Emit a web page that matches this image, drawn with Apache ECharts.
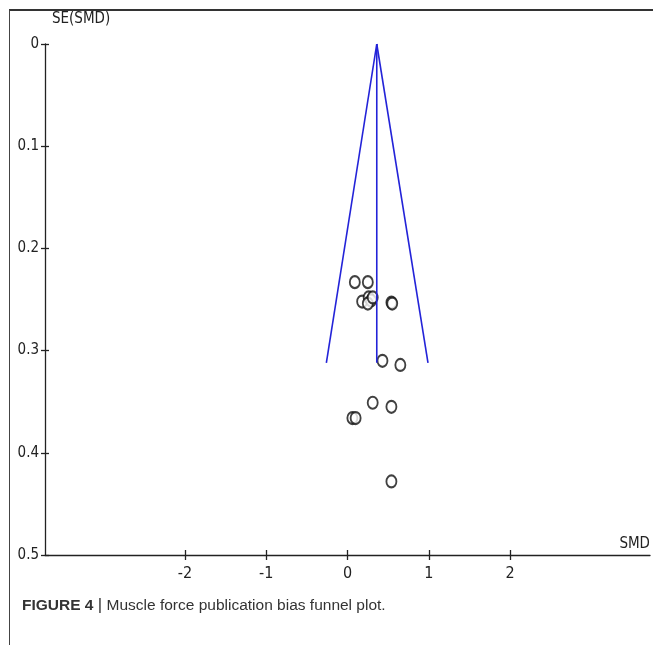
<!DOCTYPE html>
<html>
<head>
<meta charset="utf-8">
<script src="https://cdn.jsdelivr.net/npm/echarts@6/dist/echarts.min.js"></script>
<style>
html,body{margin:0;padding:0;background:#fff;}
#wrap{position:relative;width:653px;height:645px;}
#chart{position:absolute;left:0;top:0;width:653px;height:645px;}
#frame{position:absolute;left:9px;top:9px;width:644px;height:636px;border-top:2px solid #333;border-left:1px solid #444;box-sizing:border-box;pointer-events:none;}
</style>
</head>
<body>
<div id="wrap"><div id="chart"></div><div id="frame"></div></div>
<script>
// Study estimates (SMD) and their standard errors
const smd = [0.09, 0.25, 0.18, 0.26, 0.29, 0.25, 0.31, 0.54, 0.55, 0.43, 0.65, 0.31, 0.54, 0.06, 0.10, 0.54];
const se  = [0.233, 0.233, 0.252, 0.248, 0.251, 0.254, 0.248, 0.253, 0.254, 0.310, 0.314, 0.351, 0.355, 0.366, 0.366, 0.428];
// Funnel: pooled estimate and 95% limits at the largest SE
const pooledSMD = 0.36;
const funnelSE = [0, 0.312];
const funnelLower = [0.36, -0.26];
const funnelUpper = [0.36, 0.99];
// Axes
const xTicks = [-2, -1, 0, 1, 2];
const xRange = [-3.72, 3.72];
const yRange = [0, 0.5];
const yInterval = 0.1;
const captionBold = 'FIGURE 4';
const captionText = 'Muscle force publication bias funnel plot.';

const narrow = "'Liberation Sans Narrow','Arial Narrow','DejaVu Sans Condensed','Roboto Condensed',sans-serif";
const sans = "'Liberation Sans',Arial,'Helvetica Neue',sans-serif";
const chart = echarts.init(document.getElementById('chart'), null, {renderer: 'canvas'});

const xAxisBase = {
  type: 'value', min: xRange[0], max: xRange[1], position: 'bottom',
  splitLine: {show: false}
};
const yAxisBase = {
  type: 'value', min: yRange[0], max: yRange[1], interval: yInterval, inverse: true,
  position: 'left', splitLine: {show: false}
};

chart.setOption({
  animation: false,
  backgroundColor: '#fff',
  title: {
    text: '{b|' + captionBold + '} {s||} ' + captionText,
    left: 22, top: 597, padding: 0,
    textStyle: {
      fontFamily: sans, fontSize: 15.5, fontWeight: 'normal', color: '#333',
      rich: {
        b: {fontFamily: sans, fontSize: 15.5, fontWeight: 'bold', color: '#333'},
        s: {fontFamily: sans, fontSize: 17, color: '#333'}
      }
    }
  },
  grid: {left: 45, right: 3, top: 44, bottom: 90, containLabel: false},
  xAxis: [
    Object.assign({}, xAxisBase, {
      name: 'SMD', nameLocation: 'end', nameGap: 0,
      nameTextStyle: {fontFamily: narrow, fontSize: 15, color: '#222', align: 'right', verticalAlign: 'bottom', padding: [0, 0, 3, 0]},
      axisLine: {show: true, onZero: false, lineStyle: {color: '#222', width: 1.3}},
      axisTick: {show: true, inside: false, length: 5, customValues: xTicks, lineStyle: {color: '#222', width: 1.3}},
      axisLabel: {show: true, customValues: xTicks, margin: 11, fontFamily: narrow, fontSize: 16, color: '#222'}
    }),
    Object.assign({}, xAxisBase, {
      axisLine: {show: false, onZero: false},
      axisTick: {show: true, inside: true, length: 5, customValues: xTicks, lineStyle: {color: '#222', width: 1.3}},
      axisLabel: {show: false}
    })
  ],
  yAxis: [
    Object.assign({}, yAxisBase, {
      name: 'SE(SMD)', nameLocation: 'start', nameGap: 17,
      nameTextStyle: {fontFamily: narrow, fontSize: 15, color: '#222', align: 'left', padding: [0, 0, 0, 7]},
      axisLine: {show: true, onZero: false, lineStyle: {color: '#222', width: 1.3}},
      axisTick: {show: true, inside: false, length: 4, lineStyle: {color: '#222', width: 1.3}},
      axisLabel: {show: true, margin: 6, fontFamily: narrow, fontSize: 15, color: '#222'}
    }),
    Object.assign({}, yAxisBase, {
      axisLine: {show: false, onZero: false},
      axisTick: {show: true, inside: true, length: 4, lineStyle: {color: '#222', width: 1.3}},
      axisLabel: {show: false}
    })
  ],
  series: [
    {
      type: 'line', xAxisIndex: 0, yAxisIndex: 0, symbol: 'none',
      lineStyle: {color: '#2323d8', width: 1.6},
      data: funnelSE.map((s, i) => [funnelLower[i], s])
    },
    {
      type: 'line', xAxisIndex: 0, yAxisIndex: 0, symbol: 'none',
      lineStyle: {color: '#2323d8', width: 1.6},
      data: funnelSE.map((s, i) => [funnelUpper[i], s])
    },
    {
      type: 'line', xAxisIndex: 0, yAxisIndex: 0, symbol: 'none',
      lineStyle: {color: '#2323d8', width: 1.6},
      data: funnelSE.map(s => [pooledSMD, s])
    },
    {
      type: 'scatter', xAxisIndex: 0, yAxisIndex: 0,
      symbol: 'emptyCircle', symbolSize: [10, 12],
      itemStyle: {color: '#111', borderColor: '#111', borderWidth: 1.2},
      data: smd.map((v, i) => [v, se[i]])
    }
  ]
});
</script>
</body>
</html>
